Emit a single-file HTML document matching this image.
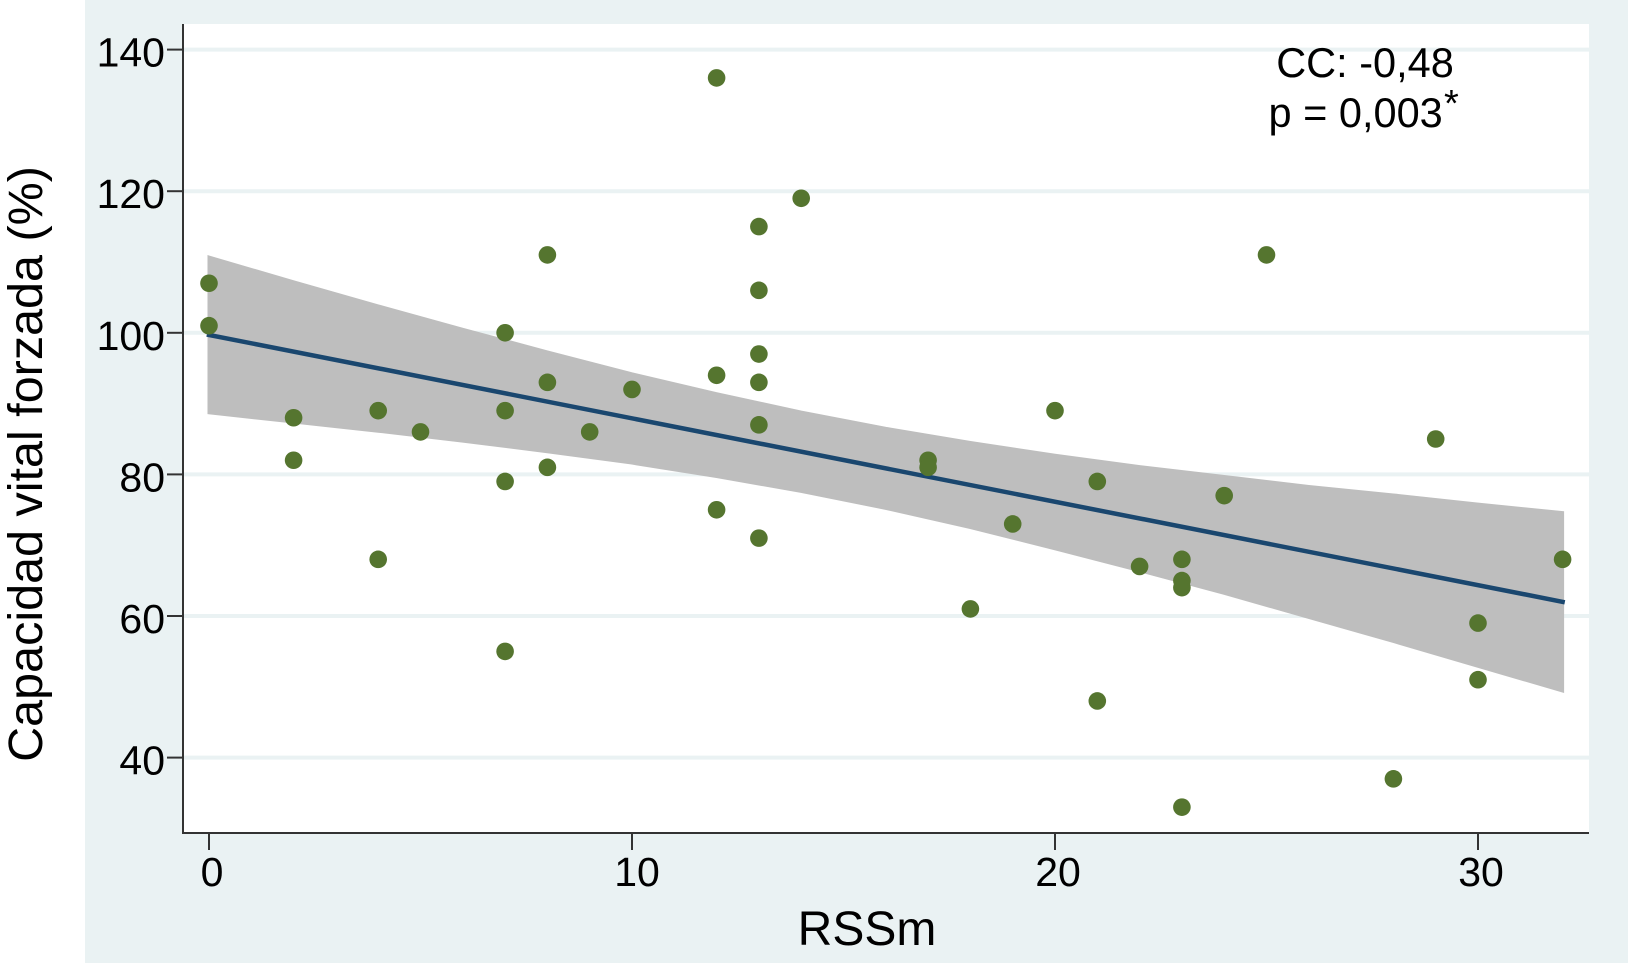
<!DOCTYPE html>
<html lang="es">
<head>
<meta charset="utf-8">
<title>Capacidad vital forzada vs RSSm</title>
<style>
html,body{margin:0;padding:0;background:#fff;width:1628px;height:968px;overflow:hidden}
svg{display:block}
text{font-family:"Liberation Sans",Arial,sans-serif;fill:#000}
</style>
</head>
<body>
<svg id="chart" xmlns="http://www.w3.org/2000/svg" width="1628" height="968" viewBox="0 0 1628 968">
  <rect x="85" y="0" width="1543" height="963" fill="#eaf2f3"/>
  <rect x="184" y="24" width="1405" height="809" fill="#ffffff"/>
  <g id="grid"></g>
  <g id="band"></g>
  <g id="fit"></g>
  <g id="points"></g>
  <line x1="183" y1="24" x2="183" y2="834" stroke="#333" stroke-width="2"/>
  <line x1="182" y1="833" x2="1589" y2="833" stroke="#333" stroke-width="2"/>
  <g id="yticks"></g>
  <g id="xticks"></g>
  <text x="867" y="945" font-size="48" text-anchor="middle">RSSm</text>
  <text transform="translate(42 464) rotate(-90)" font-size="48.5" text-anchor="middle">Capacidad vital forzada (%)</text>
  <text x="1365" y="77" font-size="41.5" text-anchor="middle">CC: -0,48</text>
  <text x="1268.5" y="127" font-size="41.5">p = 0,003</text>
  <text x="1444" y="116" font-size="38">*</text>
</svg>
<script>
const xTickValues = [0, 10, 20, 30];
const yTickValues = [40, 60, 80, 100, 120, 140];
const pointX = [0,0,2,2,4,4,5,7,7,7,7,8,8,8,9,10,12,12,12,13,13,13,13,13,13,14,17,17,18,19,20,21,21,22,23,23,23,23,24,25,28,29,30,30,32];
const pointY = [107,101,88,82,89,68,86,100,89,79,55,111,93,81,86,92,136,94,75,115,106,97,93,87,71,119,82,81,61,73,89,79,48,67,68,65,64,33,77,111,37,85,59,51,68];
const fitX = [0, 32];
const fitY = [99.7, 62.0];
const bandX = [0, 2, 4, 6, 8, 10, 12, 14, 16, 18, 20, 22, 24, 26, 28, 30, 32];
const bandUpper = [110.7, 107.2, 103.8, 100.5, 97.3, 94.2, 91.4, 88.8, 86.5, 84.5, 82.7, 81.1, 79.7, 78.3, 77.1, 75.8, 74.6];
const bandLower = [88.7, 87.4, 86.1, 84.7, 83.2, 81.6, 79.7, 77.6, 75.2, 72.5, 69.5, 66.4, 63.2, 59.8, 56.4, 52.9, 49.4];

const SVG_NS = 'http://www.w3.org/2000/svg';
function sx(v){ return 209 + v * 42.3; }
function sy(v){ return 49.6 + (140 - v) * 7.08; }
function make(tag, attrs, parentId){
  const el = document.createElementNS(SVG_NS, tag);
  for (const k in attrs) el.setAttribute(k, attrs[k]);
  document.getElementById(parentId).appendChild(el);
  return el;
}

yTickValues.forEach(function(v){
  const g = make('line', {x1:184, x2:1589, y1:sy(v), y2:sy(v), stroke:'#eaf2f3', 'stroke-width':4}, 'grid');
  
  
  const t = make('line', {x1:167, x2:183, y1:sy(v), y2:sy(v), stroke:'#333', 'stroke-width':2}, 'yticks');
  
  
  const l = make('text', {x:165, y:sy(v) + 17, 'font-size':41, 'text-anchor':'end'}, 'yticks');
  l.textContent = String(v);
  
  
});

xTickValues.forEach(function(v){
  const t = make('line', {x1:sx(v), x2:sx(v), y1:833, y2:850, stroke:'#333', 'stroke-width':2}, 'xticks');
  
  
  const l = make('text', {x:sx(v) + (v === 10 ? 5 : 3), y:886, 'font-size':41, 'text-anchor':'middle'}, 'xticks');
  l.textContent = String(v);
  
  
});

const upperPts = bandX.map(function(x, i){ return sx(x) + ',' + sy(bandUpper[i]); });
const lowerPts = bandX.map(function(x, i){ return sx(x) + ',' + sy(bandLower[i]); }).reverse();
const bandShape = make('polygon', {points:upperPts.concat(lowerPts).join(' '), fill:'#bebebe', stroke:'#bebebe', 'stroke-width':3, 'stroke-linejoin':'miter'}, 'band');



const fitPts = fitX.map(function(x, i){ return sx(x) + ',' + sy(fitY[i]); }).join(' ');
const fitLine = make('polyline', {points:fitPts, fill:'none', stroke:'#1a476f', 'stroke-width':4.5, 'stroke-linecap':'square'}, 'fit');



pointX.forEach(function(x, i){
  const c = make('circle', {cx:sx(x), cy:sy(pointY[i]), r:8.8, fill:'#55752f'}, 'points');
  
  
});
</script>
</body>
</html>
